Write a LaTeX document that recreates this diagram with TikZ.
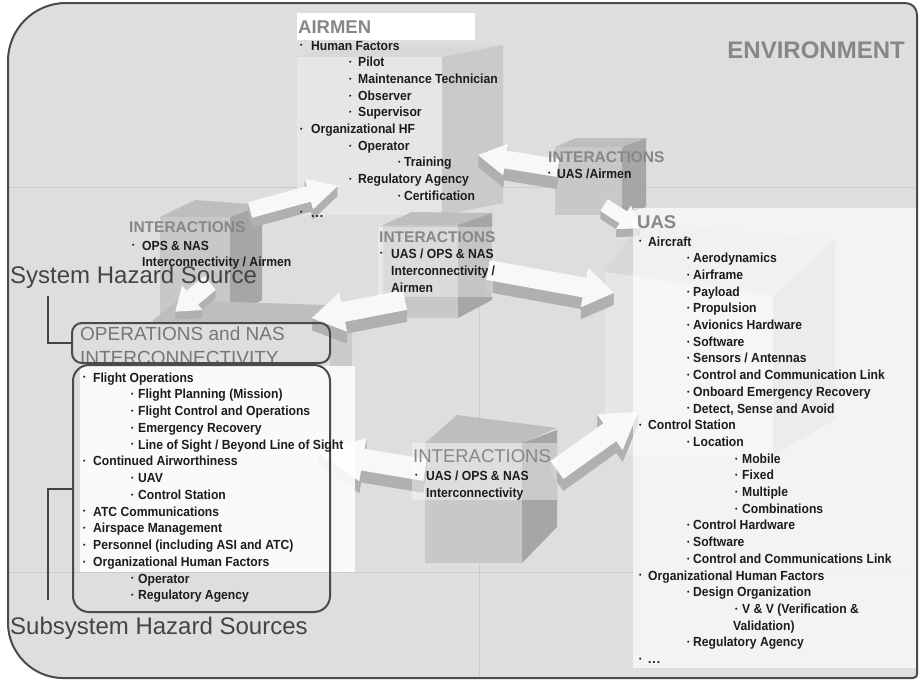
\documentclass[tikz,border=0pt]{standalone}
\usepackage{fontspec}
\setmainfont{Liberation Sans}
\usepackage{graphicx}

\definecolor{envfill}{RGB}{222,222,222}
\definecolor{frameline}{RGB}{75,75,75}
\definecolor{gridline}{RGB}{204,204,204}
\definecolor{headgray}{RGB}{135,135,135}
\definecolor{opsgray}{RGB}{118,118,118}
\definecolor{hazgray}{RGB}{68,68,68}
\definecolor{itemblack}{RGB}{28,28,28}
\definecolor{arrowtop}{RGB}{248,248,248}
\definecolor{arrowside}{RGB}{176,176,176}
\definecolor{ixtop}{RGB}{190,190,190}
\definecolor{ixfront}{RGB}{200,200,200}
\definecolor{ixside}{RGB}{166,166,166}
\definecolor{bigtop}{RGB}{216,216,216}
\definecolor{bigfront}{RGB}{230,230,230}
\definecolor{bigside}{RGB}{202,202,202}

% small list bullet, hung to the left of the item text
\newcommand{\blt}{\raisebox{0.3ex}{\fontsize{7}{7}\selectfont\textbullet}}
\newcommand{\bul}[1]{\llap{\makebox[#1pt][l]{\blt}}}
\newcommand{\more}{.\kern1pt.\kern1pt.}
% list text: bold face, narrowed to the width of the regular face
\newcommand{\squeeze}[1]{\scalebox{0.92}[1]{#1}}

% 3-D block arrow: start x, start y, angle, length, shaft half-width,
% head half-width, head length, thickness
\newcommand{\flowarrow}[8]{%
  \foreach \k in {#8,...,1}{%
    \fill[arrowside, shift={(#1,#2+\k)}, rotate=#3]
      (0,-#5) -- ({#4-#7},-#5) -- ({#4-#7},-#6) -- (#4,0)
      -- ({#4-#7},#6) -- ({#4-#7},#5) -- (0,#5) -- cycle;}%
  \fill[arrowtop, shift={(#1,#2)}, rotate=#3]
    (0,-#5) -- ({#4-#7},-#5) -- ({#4-#7},-#6) -- (#4,0)
    -- ({#4-#7},#6) -- ({#4-#7},#5) -- (0,#5) -- cycle;}

% outline of the environment panel
\newcommand{\envpath}{(8,61) .. controls (8,29) and (34,3) .. (66,3) -- (905,3)
  .. controls (912,3) and (917,8) .. (917,15) -- (917,674)
  .. controls (917,676) and (916,678) .. (913,678) -- (63,678)
  .. controls (33,678) and (8,653) .. (8,623) -- cycle}

\begin{document}
\begin{tikzpicture}[x=1pt, y=-1pt,
  item/.style={font=\bfseries\fontsize{13.2}{15}\selectfont, text=itemblack,
    inner sep=0pt, anchor=base west},
  boxhead/.style={font=\bfseries\fontsize{18.5}{20}\selectfont, text=headgray,
    inner sep=0pt, anchor=base west},
  interhead/.style={font=\bfseries\fontsize{15.5}{17}\selectfont, text=headgray,
    inner sep=0pt, anchor=base west},
  interbig/.style={font=\fontsize{18.5}{20}\selectfont, text=headgray,
    inner sep=0pt, anchor=base west},
  opshead/.style={font=\fontsize{19}{21}\selectfont, text=opsgray,
    inner sep=0pt, anchor=base west},
  hazard/.style={font=\fontsize{24}{26}\selectfont, text=hazgray,
    inner sep=0pt, anchor=base west},
  envlabel/.style={font=\bfseries\fontsize{24}{26}\selectfont, text=headgray,
    inner sep=0pt, anchor=base east},
  hazbox/.style={draw=frameline, line width=2pt, outer sep=0pt, inner sep=0pt},
  bracket/.style={draw=hazgray, line width=2pt},
  gridln/.style={draw=gridline, line width=0.8pt},
  overlay white/.style={fill=white, opacity=#1}
]
\useasboundingbox (0,0) rectangle (920,681);
\fill[white] (0,0) rectangle (920,681);

% environment panel and faint floor lines
\fill[envfill] \envpath;
\draw[gridln] (9,187) -- (916,187);
\draw[gridln] (9,572) -- (916,572);
\draw[gridln] (479,290) -- (479,677);

% AIRMEN block
\fill[bigtop] (297,57) -- (335,45) -- (503,45) -- (442,57) -- cycle;
\fill[bigfront] (297,57) rectangle (442,215);
\fill[bigside] (442,57) -- (503,45) -- (503,203) -- (442,215) -- cycle;

% UAS / Airmen interaction block
\fill[ixtop] (555,147) -- (576,138) -- (646,138) -- (622,147) -- cycle;
\fill[ixfront] (555,147) rectangle (622,215);
\fill[ixside] (622,147) -- (646,138) -- (646,207) -- (622,215) -- cycle;

% OPS / Airmen interaction block
\fill[ixtop] (160,217) -- (195,200) -- (262,205) -- (230,217) -- cycle;
\fill[ixfront] (160,217) rectangle (230,318);
\fill[ixside] (230,217) -- (262,205) -- (262,300) -- (230,318) -- cycle;

% central interaction block
\fill[ixtop] (383,225) -- (412,212) -- (492,213) -- (458,225) -- cycle;
\fill[ixfront] (383,225) rectangle (458,318);
\fill[ixside] (458,225) -- (492,213) -- (492,300) -- (458,318) -- cycle;

% UAS block
\fill[bigtop] (605,272) -- (640,222) -- (835,240) -- (773,296) -- cycle;
\fill[bigfront] (605,272) -- (773,296) -- (773,455) -- (605,455) -- cycle;
\fill[bigside] (773,296) -- (835,240) -- (835,420) -- (773,455) -- cycle;

% lower interaction block
\fill[ixtop] (425,443) -- (457,415) -- (557,428) -- (522,443) -- cycle;
\fill[ixfront] (425,443) rectangle (522,563);
\fill[ixside] (522,443) -- (557,430) -- (557,527) -- (522,563) -- cycle;

% operations block
\fill[ixtop] (150,323) -- (178,300) -- (352,306) -- (330,323) -- cycle;
\fill[bigside] (330,323) -- (352,306) -- (352,565) -- (330,572) -- cycle;

% block arrows between the sources
\flowarrow{250}{210}{15.3}{91}{8}{16}{30}{10}
\flowarrow{558}{168}{170.8}{81}{9}{16}{28}{12}
\flowarrow{604}{205}{-32.6}{43}{7}{14}{20}{8}
\flowarrow{210}{283}{-140.4}{45}{9}{16}{22}{8}
\flowarrow{405}{300}{-169}{95}{10}{20}{32}{12}
\flowarrow{488}{270}{-10.3}{128}{10}{20}{30}{12}
\flowarrow{425}{470}{170.5}{108}{11}{22}{45}{12}
\flowarrow{557}{470}{35.6}{100}{11}{22}{35}{12}

% text backgrounds
\fill[white] (297,13) rectangle (475,40);
\fill[overlay white=0.65] (633,208) rectangle (917,668);
\fill[overlay white=0.88] (80,366) rectangle (355,572);
\fill[overlay white=0.35] (378,227) rectangle (493,297);
\fill[overlay white=0.4] (412,443) rectangle (557,500);

% operations and NAS interconnectivity
\node[opshead] (opsTitleA) at (80,340) {OPERATIONS and NAS};
\node[opshead] (opsTitleB) at (80,364) {INTERCONNECTIVITY};
\node[hazbox, rounded corners=10pt, minimum width=258pt, minimum height=40pt]
  (opsHead) at (201,343) {};
\node[hazbox, rounded corners=16pt, minimum width=257pt, minimum height=247pt]
  (opsList) at (201.5,488.5) {};
\foreach \idx/\xx/\gp/\txt in {
  1/93/10/Flight Operations,
  2/138/7/Flight Planning (Mission),
  3/138/7/Flight Control and Operations,
  4/138/7/Emergency Recovery,
  5/138/7/{Line of Sight / Beyond Line of Sight},
  6/93/10/Continued Airworthiness,
  7/138/7/UAV,
  8/138/7/Control Station,
  9/93/10/ATC Communications,
  10/93/10/Airspace Management,
  11/93/10/Personnel (including ASI and ATC),
  12/93/10/Organizational Human Factors,
  13/138/7/Operator,
  14/138/7/Regulatory Agency}
  \node[item] (ops-\idx) at (\xx,{382+(\idx-1)*16.75}) {\bul{\gp}\squeeze{\txt}};

% hazard source labels and their brackets
\node[hazard] (sysLabel) at (10,283) {System Hazard Source};
\node[hazard] (subLabel) at (10,634) {Subsystem Hazard Sources};
\coordinate (sysTick) at (48,296);
\coordinate (subTick) at (48,600);
\draw[bracket] (sysTick) |- (opsHead.west);
\draw[bracket] (subTick) |- (opsList.west);

% airmen
\node[boxhead] (airHead) at (298,33) {AIRMEN};
\foreach \idx/\xx/\gp/\txt in {
  1/311/11/Human Factors,
  2/358/9/Pilot,
  3/358/9/Maintenance Technician,
  4/358/9/Observer,
  5/358/9/Supervisor,
  6/311/11/Organizational HF,
  7/358/9/Operator,
  8/404/6/Training,
  9/358/9/Regulatory Agency,
  10/404/6/Certification,
  11/311/11/{\more}}
  \node[item] (air-\idx) at (\xx,{50+(\idx-1)*16.7}) {\bul{\gp}\squeeze{\txt}};

% unmanned aircraft system
\node[boxhead] (uasHead) at (637,228) {UAS};
\foreach \idx/\xx/\gp/\txt in {
  1/648/9/Aircraft,
  2/693/6/Aerodynamics,
  3/693/6/Airframe,
  4/693/6/Payload,
  5/693/6/Propulsion,
  6/693/6/Avionics Hardware,
  7/693/6/Software,
  8/693/6/{Sensors / Antennas},
  9/693/6/Control and Communication Link,
  10/693/6/Onboard Emergency Recovery,
  11/693/6/{Detect, Sense and Avoid},
  12/648/9/Control Station,
  13/693/6/Location,
  14/742/7/Mobile,
  15/742/7/Fixed,
  16/742/7/Multiple,
  17/742/7/Combinations,
  18/693/6/Control Hardware,
  19/693/6/Software,
  20/693/6/Control and Communications Link,
  21/648/9/Organizational Human Factors,
  22/693/6/Design Organization,
  23/742/7/V \& V (Verification \&,
  25/693/6/Regulatory Agency,
  26/648/9/{\more}}
  \node[item] (uas-\idx) at (\xx,{246+(\idx-1)*16.7}) {\bul{\gp}\squeeze{\txt}};
\node[item] (uas-24) at (733,630.1) {\squeeze{Validation)}};

% interactions
\node[interhead] (ixAirHead) at (548,162) {INTERACTIONS};
\node[item] (ixAirA) at (557,178) {\bul{9}\squeeze{UAS /Airmen}};
\node[interhead] (ixOpsHead) at (129,232) {INTERACTIONS};
\node[item] (ixOpsA) at (142,250) {\bul{10}\squeeze{OPS \& NAS}};
\node[item] (ixOpsB) at (142,266) {\squeeze{Interconnectivity / Airmen}};
\node[interhead] (ixMidHead) at (379,242) {INTERACTIONS};
\node[item] (ixMidA) at (391,258) {\bul{11}\squeeze{UAS / OPS \& NAS}};
\node[item] (ixMidB) at (391,275) {\squeeze{Interconnectivity /}};
\node[item] (ixMidC) at (391,292) {\squeeze{Airmen}};
\node[interbig] (ixLowHead) at (413,462) {INTERACTIONS};
\node[item] (ixLowA) at (426,480) {\bul{11}\squeeze{UAS / OPS \& NAS}};
\node[item] (ixLowB) at (426,497) {\squeeze{Interconnectivity}};

% environment
\node[envlabel] (envLabel) at (905,58) {ENVIRONMENT};
\draw[draw=frameline, line width=2pt] \envpath;
\end{tikzpicture}
\end{document}
